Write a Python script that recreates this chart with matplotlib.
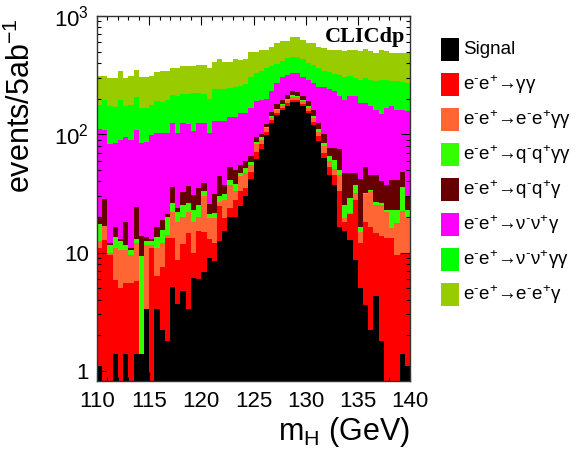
import numpy as np
import matplotlib
matplotlib.use("Agg")
import matplotlib.pyplot as plt
from matplotlib.patches import Rectangle
from matplotlib.ticker import FixedLocator, FixedFormatter, MultipleLocator, NullFormatter

plt.rcParams['font.family'] = ['Liberation Sans', 'DejaVu Sans']
plt.rcParams['mathtext.fontset'] = 'custom'
plt.rcParams['mathtext.rm'] = 'Liberation Sans'
plt.rcParams['mathtext.it'] = 'Liberation Sans:italic'
plt.rcParams['mathtext.default'] = 'regular'

# 60 bins of 0.5 GeV from 110 to 140
edges = np.linspace(110, 140, 61)

signal = [1.1, 0, 0, 1.4, 0, 1.4, 0, 1.4, 1.4, 3.3,
          0, 3.3, 2.2, 1.8, 5.1, 3.7, 4.7, 3.3, 6.1, 6.0,
          6.9, 9.0, 8.4, 12.4, 15.1, 19.9, 19.9, 24.9, 30, 41.6,
          62, 75, 99, 125, 145, 160, 175, 186, 186, 172,
          150, 120, 88, 63, 45.6, 37.5, 16.6, 15.1, 12.8, 8.7,
          5.0, 3.6, 2.2, 4.3, 1.8, 0, 0, 0, 1.4, 1.1]
ee_gg = [9.9, 12.8, 9.5, 4.5, 5.0, 4.1, 5.5, 4.3, 0, 0,
         11, 3.0, 5.4, 11.5, 8.2, 5.0, 7.0, 11.3, 3.8, 9.1,
         8.1, 4.0, 3.6, 12.2, 4.6, 4.1, 8.1, 8.1, 5.4, 6.4,
         9, 7, 6, 7, 7, 8, 8, 9, 9, 8,
         8, 8, 8, 7, 7.4, 8.1, 16.4, 2.9, 8.2, 19.3,
         7.1, 14.4, 14.4, 10.4, 11.9, 13.3, 13.3, 9.6, 8.5, 8.8]
ee_eegg = [1.5, 4.0, 0.5, 5.1, 5.5, 5.0, 4.0, 6.3, 0, 8.3,
           0.5, 4.7, 4.4, 0.7, 8.7, 9.3, 8.3, 7.4, 8.1, 4.9,
           15, 6.7, 7.7, 2.4, 8.3, 13.5, 5.0, 11, 11.6, 7.0,
           11, 8, 7, 8, 8, 9, 10, 10, 10, 10,
           10, 10, 9, 10, 7, 5.4, 12.6, 1.7, 0.7, 4,
           2.9, 13, 16.4, 10.3, 11.3, 8.7, 2.9, 8.3, 12.4, 9.7]
ee_qqgg = [5.0, 0, 1.5, 2.5, 2.0, 1.0, 1.0, 1.0, 7.9, 1.0,
           1.0, 2.5, 3.5, 6.0, 4.0, 4.0, 5.0, 4.0, 5.0, 5.0,
           3.0, 1.3, 2.0, 3.0, 3.0, 3.5, 5.0, 3.0, 5.0, 3.0,
           4, 5, 4, 4, 5, 5, 7, 10, 7, 5,
           4, 4, 5, 5, 6, 10, 4.4, 5.3, 7.3, 5.5,
           1.6, 1, 1, 2, 1, 1, 6.8, 5.1, 13.7, 3.4]
ee_qqg = [2.5, 11.8, 0.5, 3.1, 0.5, 6.5, 0.5, 11.4, 4.6, 1.0,
          0.5, 2.9, 3.2, 1.0, 10, 1.8, 7.4, 10.7, 7.9, 10,
          6.0, 4.5, 9.3, 14, 6.5, 12, 12, 8.0, 8.0, 8.0,
          8, 6, 6, 11, 15, 14, 15, 17, 16, 15,
          18, 18, 15, 15, 11, 16, 25, 22, 18, 9.5,
          25.4, 21, 11, 18, 14, 14.5, 18, 18, 12, 7]
ee_nng = [90, 81, 70, 67, 77, 77, 79, 85, 71, 72,
          86, 87, 84, 82, 89, 79, 91, 86, 76, 90,
          86, 78, 99, 86, 93, 87, 90, 95, 90, 102,
          96, 94, 78, 75, 90, 109, 105, 98, 102, 95,
          100, 110, 125, 150, 163, 153, 135, 146, 163, 163,
          142, 131, 127, 115, 107, 129, 131, 119, 112, 126]
ee_nngg = [68, 86, 90, 88, 106, 77, 88, 96, 82, 82,
           79, 86, 86, 93, 90, 107, 95, 95, 115, 97,
           93, 95, 112, 110, 112, 106, 112, 104, 115, 137,
           140, 150, 160, 145, 125, 110, 120, 120, 120, 125,
           110, 115, 110, 95, 95, 95, 110, 112, 100, 90,
           106, 116, 118, 120, 143, 119, 108, 120, 115, 114]
ee_eeg = [132, 116, 128, 128, 149, 128, 130, 145, 138, 138,
          132, 146, 156, 149, 150, 155, 157, 162, 153, 163,
          167, 167, 168, 195, 168, 159, 178, 171, 170, 190,
          170, 170, 160, 175, 195, 195, 170, 210, 210, 200,
          190, 205, 190, 190, 185, 195, 200, 200, 210, 220,
          215, 225, 215, 205, 230, 220, 205, 210, 210, 215]

series = [signal, ee_gg, ee_eegg, ee_qqgg, ee_qqg, ee_nng, ee_nngg, ee_eeg]
colors = ['#000000', '#ff0000', '#ff6633', '#33ff00', '#660000',
          '#ff00ff', '#00ff00', '#99cc00']
M = r'$^{\text{-}}$'   # short ROOT-style superscript dash
P = r'$^{+}$'
EE = 'e' + M + 'e' + P + '→'
labels = ['Signal',
          EE + 'γγ',
          EE + 'e' + M + 'e' + P + 'γγ',
          EE + 'q' + M + 'q' + P + 'γγ',
          EE + 'q' + M + 'q' + P + 'γ',
          EE + 'ν' + M + 'ν' + P + 'γ',
          EE + 'ν' + M + 'ν' + P + 'γγ',
          EE + 'e' + M + 'e' + P + 'γ']

W, H = 576, 455
fig = plt.figure(figsize=(W / 100, H / 100), dpi=100)
ax = fig.add_axes([97 / W, 1 - 381 / H, (410 - 97) / W, (381 - 16) / H])
ax.set_yscale('log')

# stack like THStack: draw cumulative totals from the top down
cum = np.cumsum(np.array(series, dtype=float), axis=0)
for i in range(len(series) - 1, -1, -1):
    ax.stairs(cum[i], edges, baseline=1e-3, fill=True, color=colors[i], lw=0)

ax.set_xlim(110, 140)
ax.set_ylim(0.82, 1000)

ax.xaxis.set_major_locator(MultipleLocator(5))
ax.xaxis.set_minor_locator(MultipleLocator(1))
ax.yaxis.set_major_locator(FixedLocator([1, 10, 100, 1000]))
ax.yaxis.set_major_formatter(FixedFormatter(['1', '10', '$10^{2}$', '$10^{3}$']))
ax.yaxis.set_minor_locator(FixedLocator([m * 10 ** e for e in range(0, 3) for m in range(2, 10)]))
ax.yaxis.set_minor_formatter(NullFormatter())
ax.tick_params(which='both', direction='in', top=True, right=True, labelsize=16)
ax.tick_params(which='major', length=6.5, width=0.8)
ax.tick_params(which='minor', length=3.2, width=0.8)
ax.tick_params(axis='x', pad=7)
ax.tick_params(axis='y', pad=6)
for s in ax.spines.values():
    s.set_linewidth(1)
    s.set_color('#333333')

ax.set_xlabel('m$_{H}$ (GeV)', fontsize=22, loc='right')
ax.set_ylabel('events/5ab$^{-1}$', fontsize=22, loc='top')
ax.xaxis.set_label_coords(1.0, -0.092)
ax.yaxis.set_label_coords(-0.192, 0.995)

fig.text(405 / W, 1 - 37 / H, 'CLICdp', ha='right', va='center',
         fontfamily='Liberation Serif', fontweight='bold', fontsize=16)

# legend on the right
for i, (c, lab) in enumerate(zip(colors, labels)):
    ytop = 38 + 35 * i
    fig.patches.append(Rectangle((441 / W, 1 - (ytop + 23) / H), 18 / W, 23 / H,
                                 transform=fig.transFigure, facecolor=c, edgecolor='none'))
    fig.text(463 / W, 1 - (ytop + 12) / H, lab, ha='left', va='center', fontsize=13.5)

fig.savefig('out.png', dpi=100)
